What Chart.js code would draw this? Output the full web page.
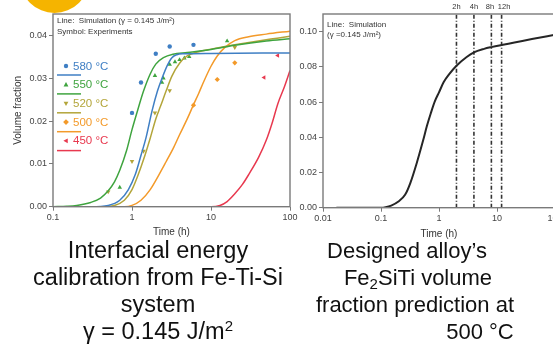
<!DOCTYPE html>
<html><head><meta charset="utf-8">
<script src="https://cdn.jsdelivr.net/npm/chart.js@4.4.1/dist/chart.umd.min.js"></script>
<style>
html,body{margin:0;padding:0;background:#fff;}
body{width:553px;height:351px;overflow:hidden;position:relative;font-family:"Liberation Sans",Arial,sans-serif;}
canvas{position:absolute;top:0;}
#c1{left:0;}
#c2{left:270px;}
.cap{position:absolute;text-align:center;font-size:22px;line-height:27px;color:#111;white-space:nowrap;width:300px;}
.cap.big{font-size:23.5px;}
.cap sub{font-size:15px;vertical-align:-4px;line-height:0;}
.cap sup{font-size:15px;vertical-align:8px;line-height:0;}
.dot{position:absolute;left:20px;top:-56px;width:69px;height:69px;border-radius:50%;background:#F5B400;}
</style></head>
<body>
<div class="dot"></div>
<canvas id="c1" width="300" height="245"></canvas>
<canvas id="c2" width="300" height="245"></canvas>
<div class="cap big" style="left:8px;top:237px;">Interfacial energy<br>calibration from Fe-Ti-Si<br>system<br>γ = 0.145 J/m<sup>2</sup></div>
<div class="cap" style="left:257px;top:237px;">Designed alloy’s</div>
<div class="cap" style="left:268px;top:264px;">Fe<sub>2</sub>SiTi volume</div>
<div class="cap" style="left:265px;top:291px;">fraction prediction at</div>
<div class="cap" style="left:330px;top:318px;">500 °C</div>
<script>
// ---------- data ----------
const timeTicksLeft = [0.1, 1, 10, 100];
const fracTicksLeft = [0, 0.01, 0.02, 0.03, 0.04];
const timeTicksRight = [0.01, 0.1, 1, 10, 100];
const fracTicksRight = [0, 0.02, 0.04, 0.06, 0.08, 0.10];

const legendLabels = ['580 °C', '550 °C', '520 °C', '500 °C', '450 °C'];

// simulation curves [time h, volume fraction]
const sim580 = [[0.1,0],[0.3,0],[0.5,0.0003],[0.7,0.0015],[0.9,0.004],[1.1,0.0075],[1.3,0.012],[1.5,0.016],[1.8,0.0225],[2.1,0.027],[2.4,0.030],[2.8,0.033],[3.2,0.0348],[3.7,0.0355],[4.5,0.0357],[10,0.0358],[100,0.0359]];
const sim550 = [[0.1,0],[0.15,0.0001],[0.2,0.0003],[0.3,0.001],[0.4,0.002],[0.5,0.0037],[0.6,0.0058],[0.7,0.0085],[0.85,0.013],[1.0,0.018],[1.2,0.023],[1.4,0.027],[1.7,0.031],[2.0,0.0333],[2.5,0.0348],[3.3,0.0356],[5,0.036],[10,0.0367],[20,0.0377],[50,0.0387],[100,0.0392]];
const sim520 = [[0.1,0],[0.4,0],[0.6,0.0003],[0.8,0.0015],[1.0,0.004],[1.2,0.0075],[1.4,0.011],[1.7,0.016],[2.0,0.0205],[2.3,0.0235],[2.7,0.027],[3.2,0.0305],[4,0.0335],[5,0.0352],[7,0.0362],[10,0.0368],[20,0.0378],[50,0.039],[100,0.0398]];
const sim500 = [[0.1,0],[0.8,0],[1.0,0.0003],[1.3,0.0015],[1.7,0.004],[2.2,0.0075],[2.7,0.0105],[3.3,0.0135],[4,0.0168],[5,0.0205],[6,0.0238],[7,0.0265],[8,0.029],[10,0.0328],[12,0.0352],[15,0.0372],[20,0.0388],[30,0.0397],[50,0.0403],[100,0.041]];
const sim450 = [[0.1,0],[10,0],[13,0.0003],[16,0.0012],[20,0.003],[25,0.0052],[30,0.0075],[40,0.0115],[50,0.0155],[60,0.0198],[70,0.024],[85,0.028],[100,0.0318]];

// experiments [time h, volume fraction]
const exp580 = [[1.0,0.0219],[1.3,0.029],[2.0,0.0357],[3.0,0.0374],[6.0,0.0378]];
const exp550 = [[0.7,0.0045],[1.95,0.0306],[2.4,0.029],[2.5,0.030],[3.0,0.0332],[3.5,0.0338],[4.0,0.0343],[4.6,0.0347],[5.3,0.035],[16,0.0387]];
const exp520 = [[0.5,0.0035],[1.0,0.0106],[1.4,0.013],[1.95,0.0219],[3.0,0.0271],[20,0.0372]];
const exp500 = [[6,0.0237],[12,0.0297],[20,0.0336]];
const exp450 = [[47,0.0302],[70,0.0353]];

// designed alloy simulation at 500 °C
const simDesign = [[0.017,0],[0.1,0],[0.12,0.0003],[0.15,0.0012],[0.2,0.0035],[0.26,0.0073],[0.32,0.014],[0.41,0.025],[0.53,0.038],[0.62,0.0465],[0.72,0.0535],[0.85,0.0605],[1.0,0.0655],[1.2,0.0712],[1.5,0.0758],[2,0.0806],[3,0.0856],[4,0.0882],[6,0.0902],[8,0.0912],[12,0.0924],[20,0.0938],[40,0.0958],[100,0.0982]];
const markerTimes = [2, 4, 8, 12];
const markerLabels = ['2h', '4h', '8h', '12h'];

// ---------- styling ----------
const FONT = '"Liberation Sans", Arial, sans-serif';
const colors = ['#3f7fc4', '#3fa43f', '#b3a53a', '#f39a2a', '#e8394f'];
const pointStyles = ['circle', 'triangle', 'triangle', 'rectRot', 'triangle'];
const pointRot = [0, 0, 180, 0, -90];
const labelNudge = [0, 0, -1.5, 2.5];
const AX = '#7a7a7a';
const TXT = '#444';

const toXY = arr => arr.map(p => ({x: p[0], y: p[1]}));

function drawMarker(ctx, style, rot, x, y, r, color) {
  ctx.save();
  ctx.fillStyle = color;
  ctx.translate(x, y);
  ctx.rotate(rot * Math.PI / 180);
  ctx.beginPath();
  if (style === 'circle') ctx.arc(0, 0, r, 0, Math.PI * 2);
  else if (style === 'triangle') { ctx.moveTo(0, -r * 1.2); ctx.lineTo(r * 1.1, r * 0.8); ctx.lineTo(-r * 1.1, r * 0.8); ctx.closePath(); }
  else { ctx.moveTo(0, -r * 1.3); ctx.lineTo(r * 1.3, 0); ctx.lineTo(0, r * 1.3); ctx.lineTo(-r * 1.3, 0); ctx.closePath(); }
  ctx.fill();
  ctx.restore();
}

const framePlugin = {
  id: 'frame',
  afterDraw(chart) {
    const {ctx, chartArea: a} = chart;
    ctx.save();
    ctx.strokeStyle = AX; ctx.lineWidth = 1.4;
    ctx.strokeRect(a.left, a.top, a.right - a.left, a.bottom - a.top);
    ctx.restore();
  }
};

const leftOverlay = {
  id: 'leftOverlay',
  afterDraw(chart) {
    const ctx = chart.ctx;
    ctx.save();
    ctx.fillStyle = '#333';
    ctx.font = '8px ' + FONT;
    ctx.textBaseline = 'middle';
    ctx.textAlign = 'left';
    ctx.fillText('Line:  Simulation (γ = 0.145 J/m²)', 57, 21);
    ctx.fillText('Symbol: Experiments', 57, 32);
    ctx.font = '11.5px ' + FONT;
    for (let i = 0; i < legendLabels.length; i++) {
      const ty = 66 + 18.7 * i;
      const ly = 75 + 18.9 * i;
      drawMarker(ctx, pointStyles[i], pointRot[i], 66, ty, 2.2, colors[i]);
      ctx.fillStyle = colors[i];
      ctx.fillText(legendLabels[i], 73, ty + 0.5);
      ctx.strokeStyle = colors[i]; ctx.lineWidth = 1.5;
      ctx.beginPath(); ctx.moveTo(57, ly); ctx.lineTo(81, ly); ctx.stroke();
    }
    ctx.restore();
  }
};

const rightOverlay = {
  id: 'rightOverlay',
  afterDraw(chart) {
    const ctx = chart.ctx;
    const xs = chart.scales.x;
    ctx.save();
    ctx.fillStyle = '#333';
    ctx.font = '8px ' + FONT;
    ctx.textBaseline = 'middle';
    ctx.textAlign = 'left';
    ctx.fillText('Line:  Simulation', 57, 25);
    ctx.fillText('(γ =0.145 J/m²)', 57, 35);
    ctx.textAlign = 'center';
    ctx.font = '7.5px ' + FONT;
    for (let i = 0; i < markerTimes.length; i++) {
      ctx.fillText(markerLabels[i], xs.getPixelForValue(markerTimes[i]) + labelNudge[i], 7);
    }
    ctx.restore();
  }
};

function linScale(min, max, ticks, title, titlePad, width, fmt) {
  return {
    type: 'linear', min, max,
    afterBuildTicks: s => { s.ticks = ticks.map(v => ({value: v})); },
    afterFit: s => { s.width = width; },
    ticks: {callback: fmt, color: TXT, font: {family: FONT, size: 9}, padding: 2, autoSkip: false},
    grid: {display: true, drawOnChartArea: false, drawTicks: true, tickLength: 4, color: AX, lineWidth: 1},
    border: {display: false},
    title: {display: !!title, text: title, color: '#333', font: {family: FONT, size: 10}, padding: {top: titlePad, bottom: 0}}
  };
}
function logScale(min, max, ticks, titlePadBottom, height) {
  return {
    type: 'logarithmic', min, max,
    afterBuildTicks: s => { s.ticks = ticks.map(v => ({value: v})); },
    afterFit: s => { s.height = height; },
    ticks: {callback: v => String(v), color: TXT, font: {family: FONT, size: 9}, padding: 1, autoSkip: false, maxRotation: 0},
    grid: {display: true, drawOnChartArea: false, drawTicks: true, tickLength: 4, color: AX, lineWidth: 1},
    border: {display: false},
    title: {display: true, text: 'Time (h)', color: '#333', font: {family: FONT, size: 10}, padding: {top: 0, bottom: titlePadBottom}}
  };
}

// ---------- left chart ----------
const sims = [sim580, sim550, sim520, sim500, sim450];
const exps = [exp580, exp550, exp520, exp500, exp450];
const leftDatasets = [];
sims.forEach((s, i) => leftDatasets.push({
  data: toXY(s), showLine: true, borderColor: colors[i], borderWidth: 1.5,
  pointRadius: 0, cubicInterpolationMode: 'monotone', fill: false
}));
exps.forEach((e, i) => leftDatasets.push({
  data: toXY(e), showLine: false, pointStyle: pointStyles[i], rotation: pointRot[i],
  pointRadius: i === 0 ? 2.2 : 2.6, backgroundColor: colors[i], borderColor: colors[i], borderWidth: 0
}));

new Chart(document.getElementById('c1'), {
  type: 'scatter',
  data: {datasets: leftDatasets},
  options: {
    responsive: false, animation: false, devicePixelRatio: 1,
    layout: {padding: {left: 0, right: 10, top: 14, bottom: 0}},
    plugins: {legend: {display: false}, tooltip: {enabled: false}},
    scales: {
      x: logScale(0.1, 100, timeTicksLeft, 6.6, 38.3),
      y: linScale(0, 0.045, fracTicksLeft, 'Volume fraction', 12.6, 53, v => v.toFixed(2))
    }
  },
  plugins: [framePlugin, leftOverlay]
});

// ---------- right chart ----------
const rightDatasets = [{
  data: toXY(simDesign), showLine: true, borderColor: '#262626', borderWidth: 2,
  pointRadius: 0, cubicInterpolationMode: 'monotone', fill: false
}];
markerTimes.forEach(t => rightDatasets.push({
  data: [{x: t, y: 0}, {x: t, y: 0.11}], showLine: true, borderColor: '#333', borderWidth: 1.6,
  borderDash: [4, 2, 1, 2], pointRadius: 0, fill: false
}));

new Chart(document.getElementById('c2'), {
  type: 'scatter',
  data: {datasets: rightDatasets},
  options: {
    responsive: false, animation: false, devicePixelRatio: 1,
    layout: {padding: {left: 0, right: 15, top: 14, bottom: 0}},
    plugins: {legend: {display: false}, tooltip: {enabled: false}},
    scales: {
      x: logScale(0.01, 100, timeTicksRight, 4.6, 37.3),
      y: linScale(0, 0.11, fracTicksRight, '', 0, 53, v => v.toFixed(2))
    }
  },
  plugins: [framePlugin, rightOverlay]
});
</script>
</body></html>
